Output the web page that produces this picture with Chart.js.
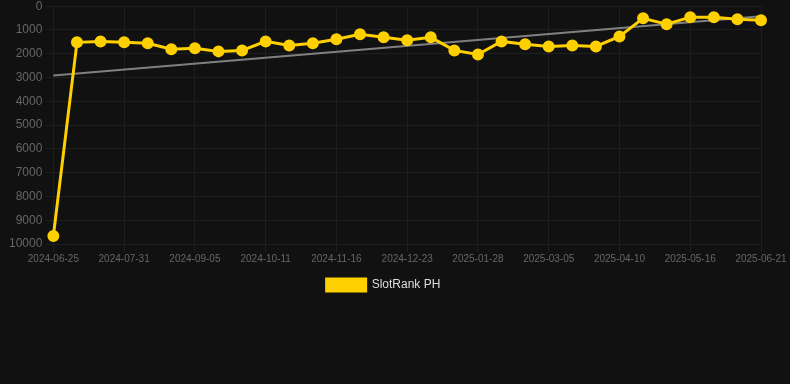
<!DOCTYPE html>
<html>
<head>
<meta charset="utf-8">
<script src="https://cdn.jsdelivr.net/npm/chart.js@4/dist/chart.umd.min.js"></script>
<style>
  html, body { margin: 0; padding: 0; background: #111111; overflow: hidden; }
  #wrap { position: relative; width: 790px; height: 305px; margin-top: -4px; }
</style>
</head>
<body>
<div id="wrap"><canvas id="chart"></canvas></div>
<script>
const dates = [
  '2024-06-25', '2024-07-07', '2024-07-19', '2024-07-31', '2024-08-12', '2024-08-24',
  '2024-09-05', '2024-09-17', '2024-09-29', '2024-10-11', '2024-10-23', '2024-11-04',
  '2024-11-16', '2024-11-28', '2024-12-11', '2024-12-23', '2025-01-04', '2025-01-16',
  '2025-01-28', '2025-02-09', '2025-02-21', '2025-03-05', '2025-03-17', '2025-03-29',
  '2025-04-10', '2025-04-22', '2025-05-04', '2025-05-16', '2025-05-28', '2025-06-09',
  '2025-06-21'
];
const rankPH = [
  9660, 1520, 1480, 1520, 1560, 1810, 1770, 1900, 1860, 1480, 1650, 1560,
  1390, 1180, 1310, 1430, 1310, 1860, 2030, 1480, 1600, 1690, 1650, 1690,
  1270, 510, 760, 460, 460, 550, 590
];
// trend line: only start and end values
const trendStart = 2910;
const trendEnd = 420;
const trend = dates.map((d, i) => i === 0 ? trendStart : (i === dates.length - 1 ? trendEnd : null));

new Chart(document.getElementById('chart'), {
  type: 'line',
  data: {
    labels: dates,
    datasets: [
      {
        label: 'SlotRank PH',
        data: rankPH,
        borderColor: '#FFD000',
        backgroundColor: '#FFD000',
        borderWidth: 3,
        pointRadius: 4.5,
        pointHoverRadius: 6,
        tension: 0
      },
      {
        label: 'trend',
        data: trend,
        borderColor: '#808080',
        borderWidth: 2,
        pointRadius: 0,
        spanGaps: true
      }
    ]
  },
  options: {
    responsive: true,
    maintainAspectRatio: false,
    animation: false,
    layout: { padding: { top: 0, right: 29, left: 6 } },
    scales: {
      y: {
        reverse: true,
        min: 0,
        max: 10000,
        ticks: {
          stepSize: 1000,
          color: '#666666',
          font: { family: 'Liberation Sans', size: 12 },
          callback: v => String(v)
        },
        grid: { color: '#1e1e1e' },
        border: { display: false }
      },
      x: {
        ticks: {
          color: '#666666',
          font: { family: 'Liberation Sans', size: 10 },
          padding: 1,
          maxRotation: 0,
          autoSkip: true,
          maxTicksLimit: 11
        },
        grid: { color: '#1e1e1e' },
        border: { display: false }
      }
    },
    plugins: {
      legend: {
        position: 'bottom',
        labels: {
          color: '#dddddd',
          font: { family: 'Liberation Sans', size: 12 },
          boxWidth: 39,
          boxHeight: 12,
          padding: 13,
          filter: item => item.text !== 'trend'
        }
      },
      tooltip: { enabled: false }
    }
  }
});
</script>
</body>
</html>
